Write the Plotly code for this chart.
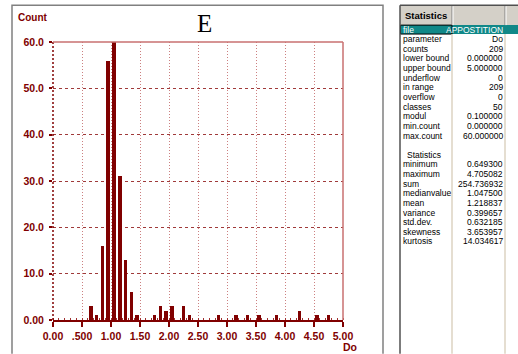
import plotly.graph_objects as go

# Histogram of Do: bin centres (class width 0.1) and counts of non-empty classes
bin_centers = [0.65, 0.75, 0.85, 0.95, 1.05, 1.15, 1.25, 1.35, 1.45,
               1.75, 1.85, 1.95, 2.05, 2.25, 2.35,
               2.85, 3.15, 3.35, 3.55, 3.85, 4.25, 4.55, 4.75]
counts = [3, 1, 16, 56, 60, 31, 13, 6, 1,
          1, 3, 2, 3, 3, 1,
          1, 1, 1, 1, 1, 2, 1, 1]

x_tickvals = [0.0, 0.5, 1.0, 1.5, 2.0, 2.5, 3.0, 3.5, 4.0, 4.5, 5.0]
x_ticktext = ["0.00", ".500", "1.00", "1.50", "2.00", "2.50", "3.00", "3.50", "4.00", "4.50", "5.00"]
y_tickvals = [0, 10, 20, 30, 40, 50, 60]
y_ticktext = ["0.00", "10.0", "20.0", "30.0", "40.0", "50.0", "60.0"]

# Statistics panel
stat_labels = ["file", "parameter", "counts", "lower bound", "upper bound", "underflow",
               "in range", "overflow", "classes", "modul", "min.count", "max.count"]
stat_values = ["APPOSTITION", "Do", "209", "0.000000", "5.000000", "0",
               "209", "0", "50", "0.100000", "0.000000", "60.000000"]
summary_labels = ["minimum", "maximum", "sum", "medianvalue", "mean",
                  "variance", "std.dev.", "skewness", "kurtosis"]
summary_values = ["0.649300", "4.705082", "254.736932", "1.047500", "1.218837",
                  "0.399657", "0.632185", "3.653957", "14.034617"]

W, H = 518, 354
PL, PR, PT, PB = 53, 343, 42, 322
MAROON = "#800000"


def px(x):
    return (x - PL) / (PR - PL)


def py(y):
    return (PB - y) / (PB - PT)


fig = go.Figure()
fig.add_trace(go.Bar(x=bin_centers, y=counts, width=0.062,
                     marker=dict(color=MAROON, line=dict(width=0)),
                     hoverinfo="x+y"))

tick_font = dict(family="Liberation Sans", size=10.5, color=MAROON, weight="bold")

fig.update_layout(
    width=W, height=H,
    margin=dict(l=PL, r=W - PR, t=PT, b=H - PB),
    paper_bgcolor="white", plot_bgcolor="white",
    showlegend=False, bargap=0,
    xaxis=dict(range=[0, 5], tickvals=x_tickvals, ticktext=x_ticktext,
               showline=True, linecolor=MAROON, linewidth=2,
               ticks="outside", ticklen=5, tickwidth=1.5, tickcolor=MAROON,
               showgrid=True, gridcolor="#cc8080", gridwidth=1, griddash="1px,2px",
               zeroline=False, tickfont=tick_font,
               minor=dict(dtick=0.1, tick0=0, ticks="inside", ticklen=2,
                          tickwidth=1, tickcolor="#a03030", showgrid=False)),
    yaxis=dict(range=[0, 60], tickvals=y_tickvals, ticktext=y_ticktext,
               showline=False, ticks="outside", ticklen=3, tickwidth=1.5,
               tickcolor=MAROON, ticklabelstandoff=3,
               showgrid=True, gridcolor="#a03a3a", gridwidth=1, griddash="3px,3px",
               zeroline=False, tickfont=tick_font),
)

shapes = []
# plot frame: dotted left edge, pale top and right edges
shapes.append(dict(type="line", xref="paper", yref="paper", x0=0, x1=0, y0=0, y1=1,
                   line=dict(color=MAROON, width=1.5, dash="2px,2px")))
shapes.append(dict(type="line", xref="paper", yref="paper", x0=0, x1=1, y0=1, y1=1,
                   line=dict(color="#c87070", width=1.5)))
shapes.append(dict(type="line", xref="paper", yref="paper", x0=1, x1=1, y0=0, y1=1,
                   line=dict(color="#c87070", width=1.5)))

# outer chart window border
shapes.append(dict(type="path", xref="paper", yref="paper",
                   path=f"M {px(12)} {py(H + 2)} L {px(12)} {py(5)} L {px(383)} {py(5)} L {px(383)} {py(H + 2)}",
                   line=dict(color="#808080", width=1.5)))

# statistics panel: header, highlighted row, grid lines
shapes.append(dict(type="rect", xref="paper", yref="paper", x0=px(400), x1=px(W + 2), y0=py(25), y1=py(5),
                   fillcolor="#d4d0c8", line=dict(width=0)))
shapes.append(dict(type="rect", xref="paper", yref="paper", x0=px(400), x1=px(W + 2), y0=py(34), y1=py(25),
                   fillcolor="#108888", line=dict(width=0)))
shapes.append(dict(type="rect", xref="paper", yref="paper", x0=px(400.5), x1=px(452), y0=py(34), y1=py(25),
                   fillcolor="rgba(0,0,0,0)", line=dict(color="black", width=1)))
for cx in (452, 505):
    shapes.append(dict(type="line", xref="paper", yref="paper", x0=px(cx), x1=px(cx), y0=py(H + 2), y1=py(34),
                       line=dict(color="#ddd3c2", width=1.5)))
    shapes.append(dict(type="line", xref="paper", yref="paper", x0=px(cx), x1=px(cx), y0=py(25), y1=py(5),
                       line=dict(color="#808080", width=1)))
    shapes.append(dict(type="line", xref="paper", yref="paper", x0=px(cx + 1), x1=px(cx + 1), y0=py(25), y1=py(6),
                       line=dict(color="white", width=1)))
shapes.append(dict(type="line", xref="paper", yref="paper", x0=px(400), x1=px(400), y0=py(H + 2), y1=py(5),
                   line=dict(color="#505050", width=1.5)))
shapes.append(dict(type="line", xref="paper", yref="paper", x0=px(400), x1=px(W + 2), y0=py(5), y1=py(5),
                   line=dict(color="#505050", width=1.5)))
fig.update_layout(shapes=shapes)

annotations = []


def text(x, y, s, anchor="left", size=8.5, color="black", family="Liberation Sans", weight="normal"):
    annotations.append(dict(x=px(x), y=py(y), xref="paper", yref="paper", text=s, showarrow=False,
                            xanchor=anchor, yanchor="middle", borderpad=0,
                            font=dict(family=family, size=size, color=color, weight=weight)))


text(204, 23, "E", anchor="center", size=25, family="Liberation Serif")
text(17, 17.5, "Count", size=10, color=MAROON, weight="bold")
text(342, 349, "Do", size=10.5, color=MAROON, weight="bold")

text(426, 15, "Statistics", anchor="center", size=9.5, weight="bold")
ROW0, STEP = 29.5, 9.7
for i, (lab, val) in enumerate(zip(stat_labels, stat_values)):
    col = "white" if i == 0 else "black"
    text(401.5, ROW0 + STEP * i, lab, color=col)
    text(504, ROW0 + STEP * i, val, anchor="right", color=col)
text(406, ROW0 + STEP * 13, "Statistics")
for j, (lab, val) in enumerate(zip(summary_labels, summary_values)):
    text(401.5, ROW0 + STEP * (14 + j), lab)
    text(504, ROW0 + STEP * (14 + j), val, anchor="right")

fig.update_layout(annotations=annotations)
fig.write_html("out.html")
